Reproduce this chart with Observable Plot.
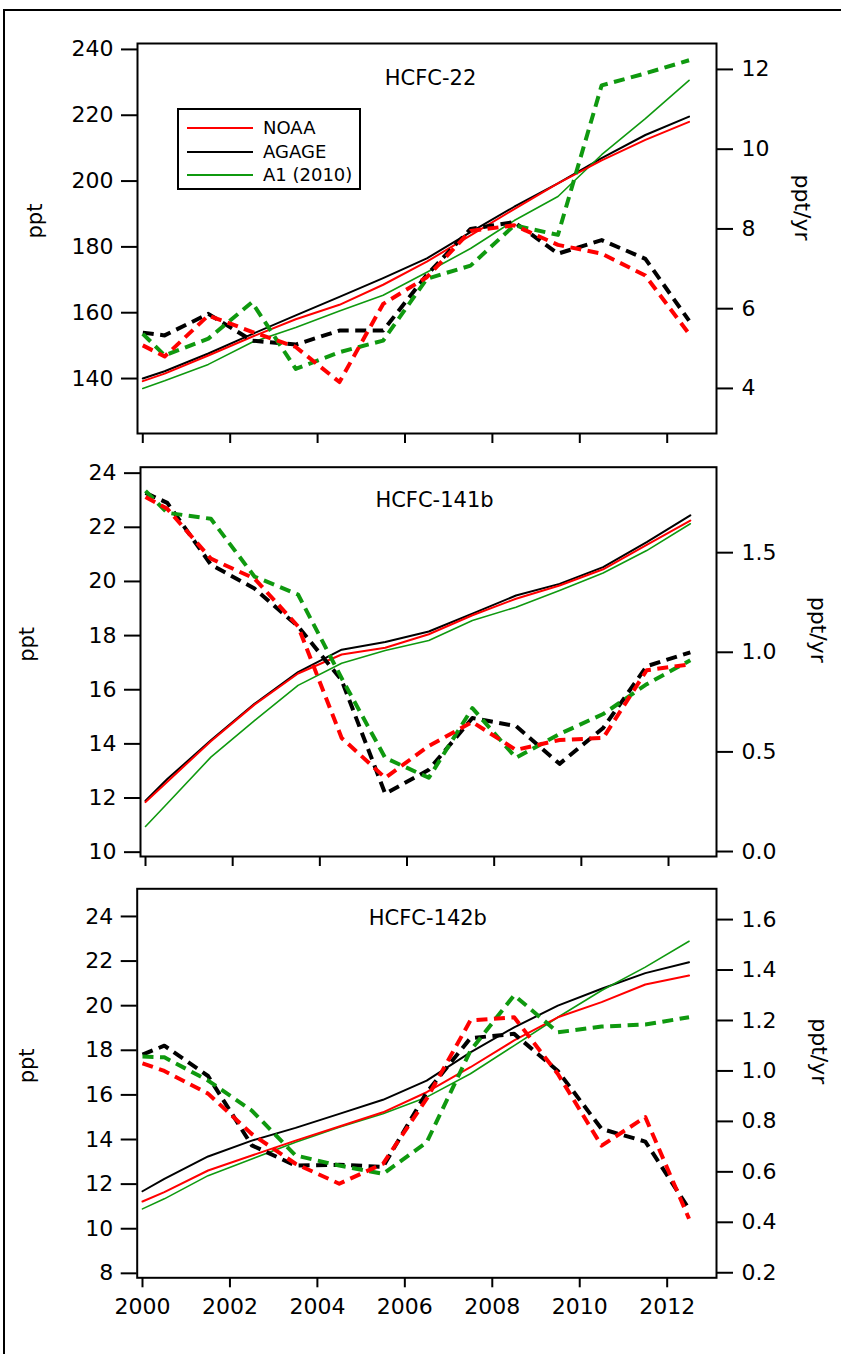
<!DOCTYPE html>
<html>
<head>
<meta charset="utf-8">
<script src="https://cdn.jsdelivr.net/npm/d3@7"></script>
<script src="https://cdn.jsdelivr.net/npm/@observablehq/plot@0.6"></script>
<style>
html, body { margin: 0; padding: 0; background: #fff; overflow: hidden; }
#root { position: relative; width: 841px; height: 1354px; font-family: "DejaVu Sans", sans-serif; }
.layer { position: absolute; left: 0; }
.layer svg { display: block; }
.layer svg g[aria-label$="tick label"] { font-size: 22px; }
#outer { position: absolute; left: 3px; top: 9px; width: 900px; height: 1400px; border-top: 2px solid #000; border-left: 2px solid #000; }
#legend { position: absolute; left: 177px; top: 108px; width: 180px; height: 78px; border: 2px solid #000; background: #fff; }
#legend .item { position: absolute; left: 0; height: 20px; }
#legend .sw { position: absolute; left: 8px; width: 66px; height: 2px; top: 9px; }
#legend .lb { position: absolute; left: 84px; top: 0; font-size: 18px; line-height: 20px; white-space: nowrap; color: #000; }
</style>
</head>
<body>
<div id="root"><div id="outer"></div></div>
<script>
// ---- Data ----
const years = [2000, 2000.5, 2001.5, 2002.5, 2003.5, 2004.5, 2005.5, 2006.5, 2007.5, 2008.5, 2009.5, 2010.5, 2011.5, 2012.5];
const xTicks = [2000, 2002, 2004, 2006, 2008, 2010, 2012];
const seriesNames = ["AGAGE", "A1 (2010)", "NOAA"];
const legendOrder = ["NOAA", "AGAGE", "A1 (2010)"];
const seriesColors = {"NOAA": "#ff0000", "AGAGE": "#000000", "A1 (2010)": "#0f990f"};
const solidWidths = {"NOAA": 2, "AGAGE": 2, "A1 (2010)": 1.6};

// HCFC-22 mole fractions (ppt) and growth rates (ppt/yr)
const noaa22   = [139.2, 141.5, 147.0, 152.7, 158.0, 162.4, 168.5, 175.5, 183.5, 191.5, 199.3, 206.3, 212.5, 218.0];
const agage22  = [140.0, 142.2, 147.6, 153.5, 159.2, 164.8, 170.5, 176.5, 184.5, 192.2, 199.3, 207.0, 214.0, 219.6];
const a1_22    = [137.0, 139.3, 144.3, 151.0, 155.5, 160.5, 165.3, 172.3, 179.5, 188.0, 195.3, 208.0, 219.0, 230.6];
const noaa22r  = [5.08, 4.80, 5.83, 5.42, 5.04, 4.16, 6.12, 6.79, 7.95, 8.09, 7.60, 7.38, 6.83, 5.37];
const agage22r = [5.40, 5.33, 5.87, 5.20, 5.10, 5.45, 5.45, 6.85, 8.00, 8.17, 7.38, 7.72, 7.25, 5.70];
const a1_22r   = [5.37, 4.83, 5.25, 6.16, 4.49, 4.91, 5.20, 6.75, 7.08, 8.09, 7.85, 11.60, 11.90, 12.23];

// HCFC-141b
const noaa141   = [11.85, 12.60, 14.10, 15.45, 16.60, 17.30, 17.55, 18.05, 18.75, 19.36, 19.85, 20.45, 21.35, 22.25];
const agage141  = [11.90, 12.70, 14.13, 15.48, 16.65, 17.48, 17.76, 18.15, 18.81, 19.48, 19.91, 20.53, 21.45, 22.44];
const a1_141    = [10.95, 11.80, 13.51, 14.86, 16.16, 16.98, 17.45, 17.82, 18.56, 19.05, 19.67, 20.31, 21.14, 22.13];
const noaa141r  = [1.78, 1.72, 1.47, 1.37, 1.13, 0.57, 0.37, 0.53, 0.65, 0.51, 0.56, 0.57, 0.91, 0.94];
const agage141r = [1.80, 1.75, 1.44, 1.32, 1.13, 0.86, 0.29, 0.41, 0.67, 0.63, 0.44, 0.62, 0.93, 1.00];
const a1_141r   = [1.81, 1.70, 1.67, 1.38, 1.29, 0.87, 0.47, 0.37, 0.72, 0.47, 0.59, 0.69, 0.84, 0.96];

// HCFC-142b
const noaa142   = [11.22, 11.64, 12.61, 13.28, 13.95, 14.58, 15.22, 16.12, 17.24, 18.44, 19.48, 20.16, 20.95, 21.35];
const agage142  = [11.68, 12.24, 13.24, 13.95, 14.52, 15.15, 15.78, 16.64, 17.91, 19.03, 20.00, 20.76, 21.46, 21.95];
const a1_142    = [10.89, 11.34, 12.38, 13.13, 13.88, 14.55, 15.15, 15.90, 16.95, 18.21, 19.48, 20.68, 21.73, 22.89];
const noaa142r  = [1.03, 1.00, 0.91, 0.75, 0.632, 0.553, 0.632, 0.89, 1.20, 1.213, 0.988, 0.704, 0.817, 0.414];
const agage142r = [1.065, 1.10, 0.98, 0.705, 0.625, 0.628, 0.62, 0.915, 1.13, 1.147, 1.00, 0.77, 0.72, 0.453];
const a1_142r   = [1.057, 1.054, 0.962, 0.843, 0.665, 0.625, 0.592, 0.717, 1.08, 1.30, 1.153, 1.176, 1.184, 1.213];

// Axis ticks
const yTicks22 = [140, 160, 180, 200, 220, 240];
const rTicks22 = [4, 6, 8, 10, 12];
const yTicks141 = [10, 12, 14, 16, 18, 20, 22, 24];
const rTicks141 = [0, 0.5, 1.0, 1.5];
const yTicks142 = [8, 10, 12, 14, 16, 18, 20, 22, 24];
const rTicks142 = [0.2, 0.4, 0.6, 0.8, 1.0, 1.2, 1.4, 1.6];

function table(bySeries) {
  return seriesNames.flatMap(name => bySeries[name].map((v, j) => ({year: years[j], value: v, series: name})));
}

const panels = [
  {
    title: "HCFC-22", top: 0, height: 450, mt: 43, mb: 17, ml: 137, mr: 125,
    xdom: [1999.879, 2013.128], ydom: [123.3, 241.8], rdom: [2.87, 12.65],
    yt: yTicks22, rt: rTicks22, yfmt: d3.format("d"), rfmt: d3.format("d"),
    solid: {"NOAA": noaa22, "AGAGE": agage22, "A1 (2010)": a1_22},
    rate: {"NOAA": noaa22r, "AGAGE": agage22r, "A1 (2010)": a1_22r},
    tdx: 3.5, tdy: 27, pdx: -102.5, rdx: 86, rdy: 2, xlabels: false
  },
  {
    title: "HCFC-141b", top: 450, height: 420, mt: 16.7, mb: 14, ml: 140, mr: 125,
    xdom: [1999.885, 2013.101], ydom: [9.84, 24.22], rdom: [-0.025, 1.929],
    yt: yTicks141, rt: rTicks141, yfmt: d3.format("d"), rfmt: d3.format(".1f"),
    solid: {"NOAA": noaa141, "AGAGE": agage141, "A1 (2010)": a1_141},
    rate: {"NOAA": noaa141r, "AGAGE": agage141r, "A1 (2010)": a1_141r},
    tdx: 6, tdy: 25, pdx: -113, rdx: 102, rdy: 1, xlabels: false
  },
  {
    title: "HCFC-142b", top: 870, height: 484, mt: 18.3, mb: 76.7, ml: 136.7, mr: 125,
    xdom: [1999.879, 2013.128], ydom: [7.80, 25.24], rdom: [0.18, 1.722],
    yt: yTicks142, rt: rTicks142, yfmt: d3.format("d"), rfmt: d3.format(".1f"),
    solid: {"NOAA": noaa142, "AGAGE": agage142, "A1 (2010)": a1_142},
    rate: {"NOAA": noaa142r, "AGAGE": agage142r, "A1 (2010)": a1_142r},
    tdx: 1, tdy: 21.7, pdx: -110, rdx: 102.5, rdy: 1, xlabels: true
  }
];

const root = document.getElementById("root");
const baseStyle = {fontFamily: "DejaVu Sans, sans-serif", fontSize: "21px", background: "transparent", color: "#000", overflow: "visible"};

for (const p of panels) {
  const solidData = table(p.solid);
  const rateData = table(p.rate);
  const common = {
    width: 841, height: p.height,
    marginTop: p.mt, marginBottom: p.mb, marginLeft: p.ml, marginRight: p.mr,
    x: {domain: p.xdom, axis: null},
    style: baseStyle
  };

  const left = Plot.plot({
    ...common,
    y: {domain: p.ydom, axis: null},
    marks: [
      Plot.frame({stroke: "#000", strokeWidth: 2}),
      Plot.axisX({ticks: xTicks, anchor: "bottom", tickSize: 10, tickPadding: 11, strokeWidth: 2,
                  tickFormat: p.xlabels ? d3.format("d") : () => "", label: null}),
      Plot.axisY({ticks: p.yt, anchor: "left", tickSize: 16, tickPadding: 8, strokeWidth: 2,
                  tickFormat: p.yfmt, label: null}),
      ...seriesNames.map(name => Plot.line(solidData.filter(d => d.series === name), {
        x: "year", y: "value", stroke: seriesColors[name], strokeWidth: solidWidths[name]
      })),
      Plot.text([p.title], {frameAnchor: "top", dx: p.tdx, dy: p.tdy, fontSize: 21, text: d => d}),
      Plot.text(["ppt"], {frameAnchor: "left", dx: p.pdx, rotate: -90, fontSize: 21, text: d => d})
    ]
  });

  const right = Plot.plot({
    ...common,
    y: {domain: p.rdom, axis: null},
    marks: [
      Plot.axisY({ticks: p.rt, anchor: "right", tickSize: 16, tickPadding: 9, strokeWidth: 2,
                  tickFormat: p.rfmt, label: null}),
      ...seriesNames.map(name => Plot.line(rateData.filter(d => d.series === name), {
        x: "year", y: "value", stroke: seriesColors[name], strokeWidth: 4,
        strokeDasharray: "11,6.5", strokeLinecap: "butt"
      })),
      Plot.text(["ppt/yr"], {frameAnchor: "right", dx: p.rdx, dy: p.rdy, rotate: 90, fontSize: 22, text: d => d})
    ]
  });

  for (const svg of [left, right]) {
    const div = document.createElement("div");
    div.className = "layer";
    div.style.top = p.top + "px";
    div.appendChild(svg);
    root.appendChild(div);
  }
}

// Legend (inside the top panel)
const legend = document.createElement("div");
legend.id = "legend";
legendOrder.forEach((name, i) => {
  const item = document.createElement("div");
  item.className = "item";
  item.style.top = (8 + i * 23.5) + "px";
  item.style.width = "100%";
  const sw = document.createElement("div");
  sw.className = "sw";
  sw.style.background = seriesColors[name];
  const lb = document.createElement("div");
  lb.className = "lb";
  lb.textContent = name;
  item.appendChild(sw);
  item.appendChild(lb);
  legend.appendChild(item);
});
root.appendChild(legend);
</script>
</body>
</html>
